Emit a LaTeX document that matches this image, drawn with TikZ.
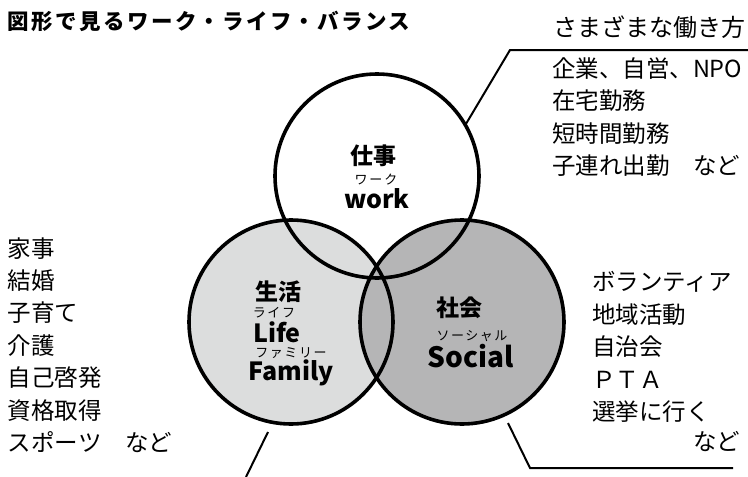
\documentclass[tikz,border=0pt]{standalone}
\usepackage{fontspec}
\setmainfont{Noto Sans CJK JP}
\newfontfamily\jpfont{Noto Sans CJK JP}
\newfontfamily\jptitle[LetterSpace=11]{Noto Sans CJK JP}
\newfontfamily\jpruby[LetterSpace=12]{Noto Sans CJK JP}
\definecolor{lifegray}{HTML}{DCDDDD}
\definecolor{socialgray}{HTML}{B5B5B6}
\begin{document}
\begin{tikzpicture}[x=1pt,y=-1pt,
  disc/.style={circle,minimum size=204pt,inner sep=0pt,outer sep=0pt},
  ring/.style={line width=3.6pt},
  leader/.style={line width=2pt},
  txt/.style={inner sep=0pt,outer sep=0pt},
  listtxt/.style={txt,anchor=west,align=left,font=\jpfont\fontsize{23.5}{32.4}\selectfont},
  kanji/.style={txt,font=\jpfont\bfseries\fontsize{23}{23}\selectfont},
  ruby/.style={txt,font=\jpruby\fontsize{13}{13}\selectfont},
  latin/.style={txt,font=\jpfont\bfseries\fontsize{25}{25}\selectfont}]
\useasboundingbox (0,0) rectangle (748,477);
% discs
\node[disc,fill=white] (wk) at (377,176) {};
\node[disc,fill=lifegray] (lf) at (291,322) {};
\node[disc,fill=socialgray] (sc) at (462,322) {};
\draw[ring] (wk.center) circle[radius=102];
\draw[ring] (lf.center) circle[radius=102];
\draw[ring] (sc.center) circle[radius=102];
% labels in circles
\node[kanji] (wkj) at (373,156) {仕事};
\node[ruby] (wkr) at (376,180) {ワ\hspace{2pt}ー\hspace{2pt}ク};
\node[latin] (wke) at (377,199) {work};
\node[kanji] (lfj) at (278,292) {生活};
\node[ruby] (lfr) at (274,313) {ライフ};
\node[latin,anchor=base] (lfe) at (277,342) {Life};
\node[ruby] (lfr2) at (291,353) {ファミリー};
\node[latin] (lfe2) at (291,373) {Family};
\node[kanji] (scj) at (459,308) {社会};
\node[ruby] (scr) at (472,336) {ソーシャル};
\node[latin,font=\jpfont\bfseries\fontsize{28}{28}\selectfont] (sce) at (471,356) {Social};
% title
\node[txt,anchor=west,font=\jptitle\bfseries\fontsize{21.5}{21.5}\selectfont] (title) at (8,21) {図形で見るワーク・ライフ・バランス};
% top right
\node[txt,anchor=west,font=\jpfont\fontsize{24}{24}\selectfont] (wayhd) at (553,27) {さまざまな働き方};
\node[listtxt] (waylist) at (552,117) {企業、自営、NPO\\在宅勤務\\短時間勤務\\子連れ出勤　など};
% left list
\node[listtxt] (lifelist) at (8,345) {家事\\結婚\\子育て\\介護\\自己啓発\\資格取得\\スポーツ　など};
% right list
\node[listtxt] (soclist) at (592,347) {ボランティア\\地域活動\\自治会\\ＰＴＡ\\選挙に行く};
\node[listtxt] (socnado) at (693,442) {など};
% leader lines
\coordinate (a1) at (748,50);
\coordinate (a2) at (510,50);
\draw[leader] (a1) -- (a2) -- (wk.30);
\coordinate (b1) at (268,432);
\coordinate (b2) at (246,477);
\draw[leader] (b1) -- (b2);
\coordinate (c1) at (508,423);
\coordinate (c2) at (530,468);
\coordinate (c3) at (733,468);
\draw[leader] (c1) -- (c2) -- (c3);
\end{tikzpicture}
\end{document}
